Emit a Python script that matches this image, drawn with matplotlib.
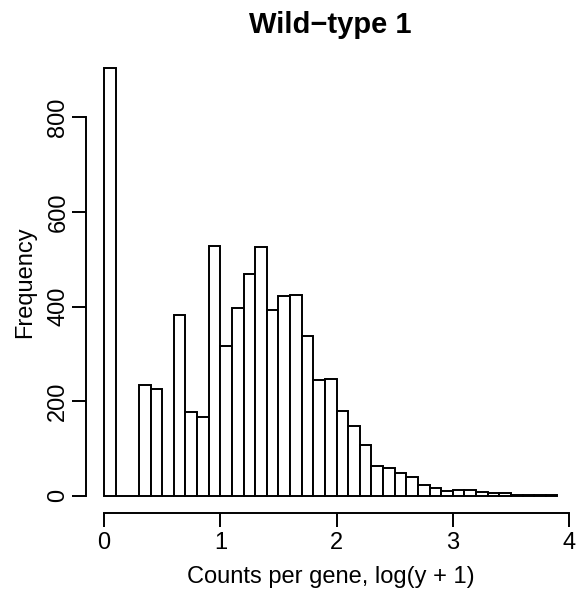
import numpy as np
import matplotlib
matplotlib.use("Agg")
import matplotlib.pyplot as plt

plt.rcParams['font.family'] = ['Liberation Sans', 'DejaVu Sans']

# histogram of log counts, bins of width 0.1
bin_width = 0.1
bin_left = np.round(np.arange(0, 3.9, bin_width), 1)
counts = [903, 0, 0, 235, 226, 0, 383, 178, 167, 528,
          317, 396, 468, 526, 392, 422, 425, 337, 245, 246,
          180, 148, 107, 63, 58, 49, 39, 22, 16, 11,
          13, 12, 8, 6, 6, 2, 2, 1, 1]
x_ticks = [0, 1, 2, 3, 4]
y_ticks = [0, 200, 400, 600, 800]

W, H = 577, 592
fig = plt.figure(figsize=(W / 100, H / 100), dpi=100)
ax = fig.add_axes([86 / W, 79 / H, (575.5 - 86) / W, (513 - 51.4) / H])

ax.bar(bin_left, counts, width=bin_width, align='edge',
       facecolor='white', edgecolor='black', linewidth=1.4)

# R style axis extents (4% padding)
x0, x1 = 0, bin_left[-1] + bin_width
pad = 0.04 * (x1 - x0)
ax.set_xlim(x0 - pad, x1 + pad)
ymax = max(counts)
ax.set_ylim(-0.04 * ymax, ymax * 1.04)

for s in ['top', 'right']:
    ax.spines[s].set_visible(False)
ax.spines['bottom'].set_bounds(x_ticks[0], x_ticks[-1])
ax.spines['left'].set_bounds(y_ticks[0], y_ticks[-1])
for s in ['bottom', 'left']:
    ax.spines[s].set_linewidth(1.4)

ax.set_xticks(x_ticks)
ax.set_yticks(y_ticks)
ax.set_yticklabels([str(v) for v in y_ticks], rotation=90, va='center')
ax.tick_params(axis='both', direction='out', length=10, width=1.4,
               labelsize=17)
ax.tick_params(axis='x', pad=4)
ax.tick_params(axis='y', pad=2)

ax.set_xlabel('Counts per gene, log(y + 1)', fontsize=17, labelpad=8)
ax.set_ylabel('Frequency', fontsize=17, labelpad=8)
fig.text(ax.get_position().x0 + ax.get_position().width / 2, 1 - 25 / H,
         'Wild\u2212type 1', fontsize=21, fontweight='bold',
         ha='center', va='center')

fig.savefig('out.png', dpi=100)
